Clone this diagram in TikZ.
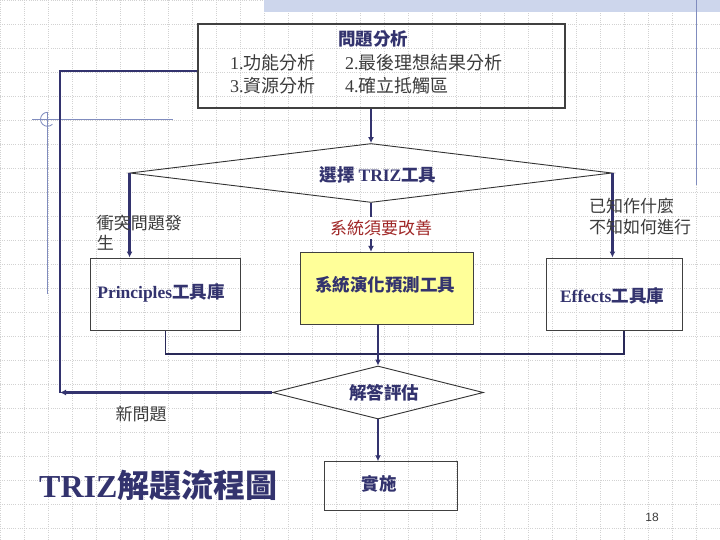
\documentclass[tikz,border=0pt]{standalone}
\usepackage{fontspec}
\setmainfont{Liberation Serif}
\newfontfamily\cjk{Noto Sans CJK TC}
\newfontfamily\sansf{Liberation Sans}
\usetikzlibrary{shapes.geometric,arrows.meta}
\definecolor{navy}{RGB}{51,51,110}
\definecolor{txt}{RGB}{60,60,60}
\definecolor{deco}{RGB}{128,140,190}
\definecolor{band}{RGB}{205,214,236}
\definecolor{redtxt}{RGB}{160,40,40}
\definecolor{yel}{RGB}{255,255,153}
\definecolor{gridc}{RGB}{210,210,210}
\begin{document}
\begin{tikzpicture}[x=1pt,y=-1pt,
  boxs/.style={draw=black!75,line width=1pt,inner sep=0},
  dia/.style={diamond,draw=black!80,line width=0.9pt,inner sep=0},
  arr/.style={draw=navy,line width=2.2pt,-{Latex[length=6pt,width=6pt]}},
  conn/.style={draw=navy,line width=2pt},
  thinc/.style={draw=navy!80!black,line width=1.1pt},
  gridl/.style={draw=gridc,line width=0.7pt,dash pattern=on 1pt off 1.2pt},
  decol/.style={draw=deco,line width=1.2pt},
  lbl/.style={inner sep=0,text=txt,font=\cjk\fontsize{17}{20.5}\selectfont},
  tb/.style={inner sep=0,text=txt,font=\cjk\fontsize{18}{21}\selectfont,anchor=west},
  bl/.style={inner sep=0,text=navy,font=\cjk\bfseries\fontsize{17.5}{21}\selectfont}]
\useasboundingbox (0,0) rectangle (720,540);
\fill[white] (0,0) rectangle (720,540);
% grid
\foreach \i in {0,...,29} \draw[gridl] ({24*\i+0.7},0) -- ({24*\i+0.7},540);
\foreach \j in {0,...,22} \draw[gridl] (0,{24*\j+0.5}) -- (720,{24*\j+0.5});
% decorations
\fill[band] (264,0) rectangle (720,11.7);
\draw[decol] (696.5,0) -- (696.5,185);
\draw[decol] (32,119.3) -- (173,119.3);
\draw[decol] (47.5,112) -- (47.5,294);
\draw[decol,line width=0.8pt] (47.5,112.3) arc[start angle=90,end angle=315,radius=7pt];
% top box
\node[boxs,line width=1.5pt,minimum width=367pt,minimum height=84pt] (top) at (381.5,66) {};
\node[bl] (t0) at (373,39) {問題分析};
\node[tb] (t1) at (230,63) {{\rmfamily 1.}功能分析};
\node[tb] (t2) at (345,63) {{\rmfamily 2.}最後理想結果分析};
\node[tb] (t3) at (230,86) {{\rmfamily 3.}資源分析};
\node[tb] (t4) at (345,86) {{\rmfamily 4.}確立抵觸區};
% diamond 1
\node[dia,minimum width=482pt,minimum height=59pt] (d1) at (371,173) {};
\node[bl] (d1t) at (378,175) {選擇 {\rmfamily TRIZ}工具};
% boxes
\node[boxs,minimum width=150.7pt,minimum height=72pt] (prin) at (165.6,294) {};
\node[bl] (print) at (161,293) {{\rmfamily Principles}工具庫};
\node[boxs,fill=yel,minimum width=172.3pt,minimum height=72pt] (mid) at (387,288.3) {};
\node[bl] (midt) at (385,285) {系統演化預測工具};
\node[boxs,minimum width=136.3pt,minimum height=72pt] (eff) at (614.8,294) {};
\node[bl] (efft) at (612,296) {{\rmfamily Effects}工具庫};
% diamond 2
\node[dia,minimum width=211pt,minimum height=53pt] (d2) at (378,392.5) {};
\node[bl] (d2t) at (384,393) {解答評估};
% implement
\node[boxs,minimum width=133pt,minimum height=48.3pt] (impl) at (390.8,485.9) {};
\node[bl] (implt) at (379,484) {實施};
% connectors
\draw[arr] (top.south -| d1.north) -- (d1.north);
\draw[arr] (d1.west) -- (d1.west |- prin.north);
\draw[arr] (d1.south) -- (d1.south |- mid.north);
\draw[arr] (d1.east) -- (d1.east |- eff.north);
\coordinate (barR) at (624,354);
\draw[thinc] (prin.south) |- (barR) -- (barR |- eff.south);
\draw[arr] (mid.south -| d2.north) -- (d2.north);
\draw[arr] (d2.south) -- (d2.south |- impl.north);
\coordinate (lc) at (60,392.5);
\coordinate (tl) at (60,71);
\draw[arr] (d2.west) -- (lc);
\draw[conn] (lc) -- (tl) -- (tl -| top.west);
% labels
\node[lbl,anchor=west,align=left] (l1) at (96.7,232.8) {衝突問題發\\生};
\node[lbl,text=redtxt,fill=white,inner sep=3pt] (l2) at (381,227.7) {系統須要改善};
\node[lbl,anchor=west,align=left] (l3) at (589,216.3) {已知作什麼\\不知如何進行};
\node[lbl] (l4) at (141,414) {新問題};
\node[inner sep=0,text=navy,font=\bfseries\fontsize{32}{38}\selectfont,anchor=west] (title) at (39,485) {TRIZ{\cjk 解題流程圖}};
\node[inner sep=0,text=txt,font=\sansf\fontsize{12}{14}\selectfont] (pg) at (652,517) {18};
\end{tikzpicture}
\end{document}
